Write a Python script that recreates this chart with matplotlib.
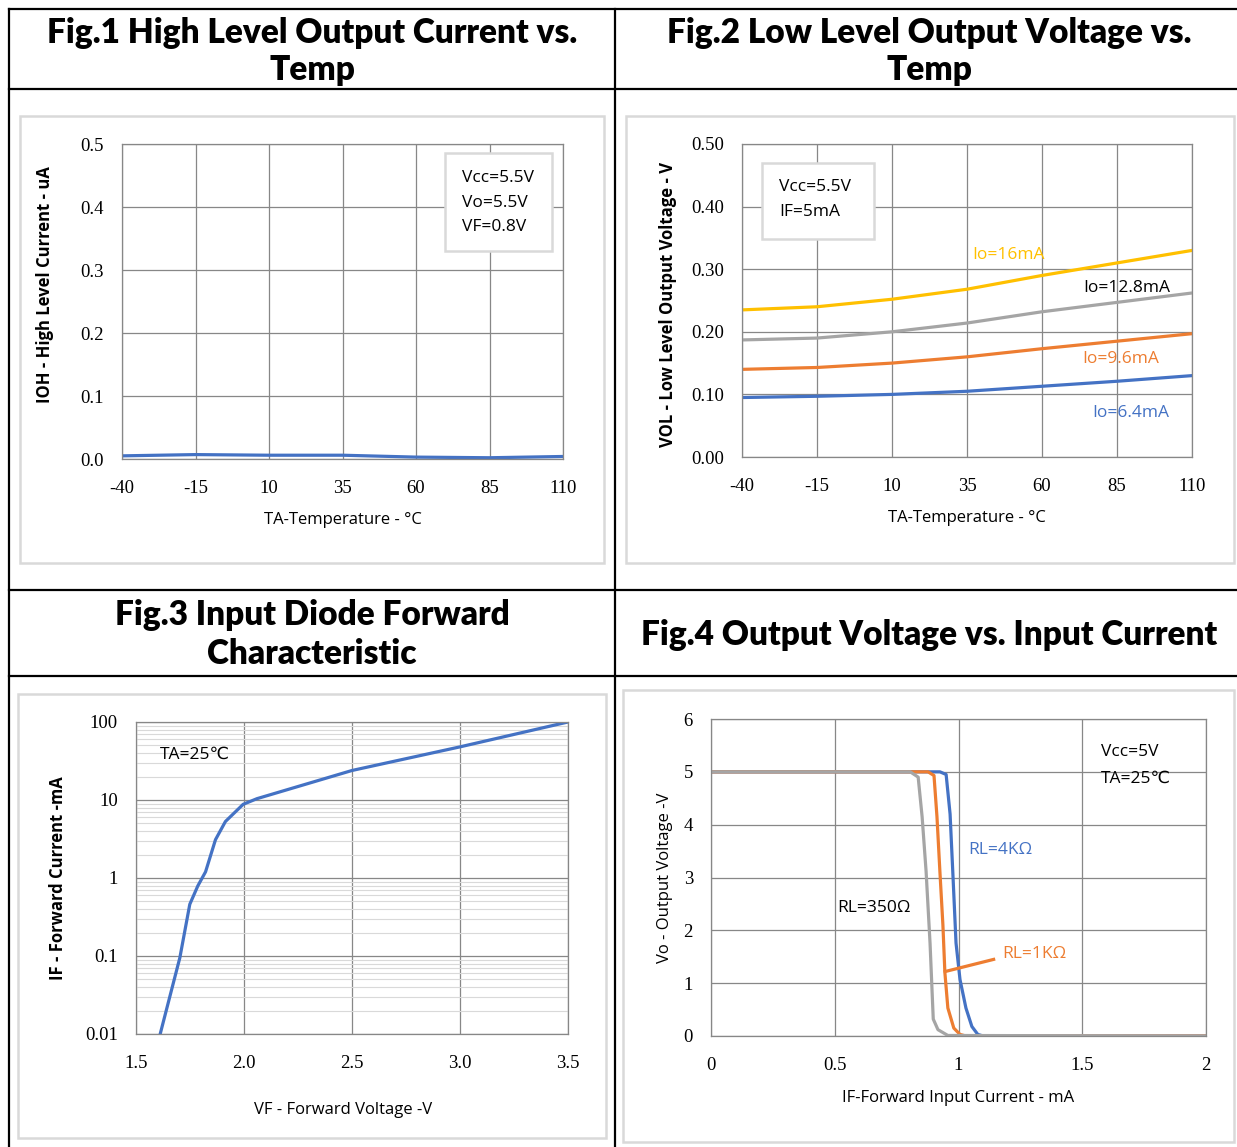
import matplotlib
matplotlib.use("Agg")
import matplotlib.pyplot as plt
from matplotlib.lines import Line2D
from matplotlib.patches import Rectangle

W, H = 1237, 1147
plt.rcParams["axes.unicode_minus"] = False

# ---- data ----
temps = [-40, -15, 10, 35, 60, 85, 110]
ioh = [0.005, 0.007, 0.006, 0.006, 0.003, 0.002, 0.004]

vol_16 = [0.235, 0.240, 0.252, 0.268, 0.290, 0.310, 0.330]
vol_128 = [0.187, 0.190, 0.200, 0.214, 0.232, 0.247, 0.262]
vol_96 = [0.140, 0.143, 0.150, 0.160, 0.173, 0.185, 0.197]
vol_64 = [0.095, 0.097, 0.100, 0.105, 0.113, 0.121, 0.130]

vf = [1.612, 1.703, 1.749, 1.786, 1.822, 1.868, 1.914, 1.996, 2.06, 2.5, 3.0, 3.5]
if_ma = [0.01, 0.095, 0.46, 0.79, 1.2, 3.1, 5.3, 8.8, 10.4, 23.9, 48, 100]

if_4k = [0, 0.5, 0.925, 0.95, 0.966, 0.977, 0.99, 1.006, 1.03, 1.054, 1.078, 1.1, 2.0]
vo_4k = [5, 5, 5, 4.95, 4.2, 3.1, 1.76, 1.07, 0.53, 0.18, 0.03, 0, 0]
if_1k = [0, 0.877, 0.901, 0.913, 0.925, 0.937, 0.945, 0.957, 0.981, 1.006, 1.03, 2.0]
vo_1k = [5, 5, 4.93, 4.15, 3.1, 2.1, 1.2, 0.53, 0.15, 0.03, 0, 0]
if_350 = [0, 0.805, 0.837, 0.853, 0.869, 0.885, 0.898, 0.917, 0.957, 2.0]
vo_350 = [5, 5, 4.9, 4.15, 3.12, 1.76, 0.32, 0.12, 0.01, 0]

BLUE = "#4472c4"
ORANGE = "#ed7d31"
GRAY = "#a5a5a5"
YELLOW = "#ffc000"
GRID = "#878787"
BOXC = "#d9d9d9"

TITLE_FONT = dict(family=["Lato", "DejaVu Sans"], fontweight="heavy", fontsize=24)
NARROW = ["Liberation Sans Narrow", "Open Sans", "DejaVu Sans"]
TICK_FONT = ["Liberation Serif", "DejaVu Serif"]

fig = plt.figure(figsize=(W / 100, H / 100), dpi=100)


def px_box(x0, y0, x1, y1):
    return [x0 / W, 1 - y1 / H, (x1 - x0) / W, (y1 - y0) / H]


def ftext(x, y, s, **kw):
    kw.setdefault("ha", "center")
    kw.setdefault("va", "center")
    fig.text(x / W, 1 - y / H, s, **kw)


def hline(y, x0=9, x1=W):
    fig.add_artist(Line2D([x0 / W, x1 / W], [1 - y / H, 1 - y / H], color="black", lw=1.6))


def vline(x, y0=9, y1=H):
    fig.add_artist(Line2D([x / W, x / W], [1 - y0 / H, 1 - y1 / H], color="black", lw=1.6))


def frame(x0, y0, x1, y1, lw=1.8):
    fig.add_artist(Rectangle((x0 / W, 1 - y1 / H), (x1 - x0) / W, (y1 - y0) / H,
                             transform=fig.transFigure, facecolor="white",
                             edgecolor=BOXC, lw=lw, zorder=-1))


def style(ax):
    for s in ax.spines.values():
        s.set_color(GRID)
        s.set_linewidth(0.9)
    ax.grid(True, color=GRID, lw=0.9)
    ax.set_axisbelow(True)
    ax.tick_params(length=0, labelsize=13.5, pad=13)
    ax.tick_params(axis="x", pad=15)
    for lab in ax.get_xticklabels() + ax.get_yticklabels():
        lab.set_family(TICK_FONT)


# ---- table ----
for y in (9, 89, 590, 676):
    hline(y)
vline(9)
vline(615)

ftext(312, 33, "Fig.1 High Level Output Current vs.", **TITLE_FONT)
ftext(312, 70, "Temp", **TITLE_FONT)
ftext(929, 33, "Fig.2 Low Level Output Voltage vs.", **TITLE_FONT)
ftext(929, 70, "Temp", **TITLE_FONT)
ftext(312, 615, "Fig.3 Input Diode Forward", **TITLE_FONT)
ftext(312, 654, "Characteristic", **TITLE_FONT)
ftext(929, 635, "Fig.4 Output Voltage vs. Input Current", **TITLE_FONT)

# ---- Fig.1 ----
frame(20, 116, 604, 563)
ax1 = fig.add_axes(px_box(122, 144, 563, 459))
ax1.plot(temps, ioh, color=BLUE, lw=2.3, solid_capstyle="butt")
ax1.set_xlim(-40, 110)
ax1.set_ylim(0, 0.5)
ax1.set_xticks(temps)
ax1.set_yticks([0, 0.1, 0.2, 0.3, 0.4, 0.5])
ax1.set_yticklabels(["0.0", "0.1", "0.2", "0.3", "0.4", "0.5"])
style(ax1)
fig.add_artist(Rectangle((445 / W, 1 - 251 / H), 107 / W, 98 / H, transform=fig.transFigure,
                         facecolor="white", edgecolor=BOXC, lw=1.8))
for yy, s in ((178, "Vcc=5.5V"), (203, "Vo=5.5V"), (227, "VF=0.8V")):
    ftext(462, yy, s, ha="left", family=NARROW, fontsize=12.5)
ftext(45, 285, "IOH - High Level Current - uA", rotation=90, family=NARROW,
      fontsize=12, fontweight="bold")
ftext(343, 520, "TA-Temperature - °C", family=NARROW, fontsize=12)

# ---- Fig.2 ----
frame(626, 116, 1234, 563)
ax2 = fig.add_axes(px_box(742, 144, 1192, 457))
ax2.plot(temps, vol_16, color=YELLOW, lw=2.3)
ax2.plot(temps, vol_128, color=GRAY, lw=2.3)
ax2.plot(temps, vol_96, color=ORANGE, lw=2.3)
ax2.plot(temps, vol_64, color=BLUE, lw=2.3)
ax2.set_xlim(-40, 110)
ax2.set_ylim(0, 0.5)
ax2.set_xticks(temps)
ax2.set_yticks([0, 0.1, 0.2, 0.3, 0.4, 0.5])
ax2.set_yticklabels(["0.00", "0.10", "0.20", "0.30", "0.40", "0.50"])
style(ax2)
fig.add_artist(Rectangle((762 / W, 1 - 239 / H), 112 / W, 76 / H, transform=fig.transFigure,
                         facecolor="white", edgecolor=BOXC, lw=1.8))
ftext(779, 187, "Vcc=5.5V", ha="left", family=NARROW, fontsize=12.5)
ftext(779, 212, "IF=5mA", ha="left", family=NARROW, fontsize=12.5)
ftext(1008, 255, "Io=16mA", color=YELLOW, family=NARROW, fontsize=12.5)
ftext(1127, 288, "Io=12.8mA", color="black", family=NARROW, fontsize=12.5)
ftext(1121, 359, "Io=9.6mA", color=ORANGE, family=NARROW, fontsize=12.5)
ftext(1131, 413, "Io=6.4mA", color=BLUE, family=NARROW, fontsize=12.5)
ftext(668, 305, "VOL - Low Level Output Voltage - V", rotation=90, family=NARROW,
      fontsize=12, fontweight="bold")
ftext(967, 518, "TA-Temperature - °C", family=NARROW, fontsize=12)

# ---- Fig.3 ----
frame(18, 694, 606, 1138)
ax3 = fig.add_axes(px_box(136, 722, 568, 1034))
ax3.set_yscale("log")
ax3.plot(vf, if_ma, color=BLUE, lw=2.3)
ax3.set_xlim(1.5, 3.5)
ax3.set_ylim(0.01, 100)
ax3.set_xticks([1.5, 2.0, 2.5, 3.0, 3.5])
ax3.set_xticklabels(["1.5", "2.0", "2.5", "3.0", "3.5"])
ax3.set_yticks([0.01, 0.1, 1, 10, 100])
ax3.set_yticklabels(["0.01", "0.1", "1", "10", "100"])
style(ax3)
ax3.grid(True, which="minor", axis="y", color=BOXC, lw=0.8)
ax3.tick_params(which="minor", length=0, labelleft=False)
ftext(160, 755, "TA=25℃", ha="left", family=NARROW + ["Noto Sans CJK SC"], fontsize=12.5)
ftext(58, 878, "IF - Forward Current -mA", rotation=90, family=NARROW,
      fontsize=12, fontweight="bold")
ftext(343, 1110, "VF - Forward Voltage -V", family=NARROW, fontsize=12)

# ---- Fig.4 ----
frame(623, 690, 1234, 1142)
ax4 = fig.add_axes(px_box(711, 719, 1206, 1036))
ax4.plot(if_4k, vo_4k, color=BLUE, lw=2.3)
ax4.plot(if_1k, vo_1k, color=ORANGE, lw=2.3)
ax4.plot(if_350, vo_350, color=GRAY, lw=2.3)
ax4.plot([0.946, 1.142], [1.22, 1.45], color=ORANGE, lw=2.3)
ax4.set_xlim(0, 2)
ax4.set_ylim(0, 6)
ax4.set_xticks([0, 0.5, 1, 1.5, 2])
ax4.set_xticklabels(["0", "0.5", "1", "1.5", "2"])
ax4.set_yticks([0, 1, 2, 3, 4, 5, 6])
style(ax4)
ftext(1101, 752, "Vcc=5V", ha="left", family=NARROW, fontsize=12.5)
ftext(1101, 779, "TA=25℃", ha="left", family=NARROW + ["Noto Sans CJK SC"], fontsize=12.5)
ftext(968, 850, "RL=4KΩ", ha="left", color=BLUE, family=NARROW, fontsize=12.5)
ftext(837, 908, "RL=350Ω", ha="left", color="black", family=NARROW, fontsize=12.5)
ftext(1002, 954, "RL=1KΩ", ha="left", color=ORANGE, family=NARROW, fontsize=12.5)
ftext(665, 878, "Vo - Output Voltage -V", rotation=90, family=NARROW, fontsize=12)
ftext(958, 1098, "IF-Forward Input Current - mA", family=NARROW, fontsize=12)

fig.savefig("out.png", dpi=100)
